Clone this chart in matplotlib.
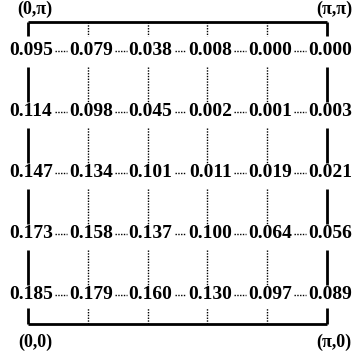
import matplotlib
matplotlib.use("Agg")
import matplotlib.pyplot as plt

# Grid values, rows from top (y = pi) to bottom (y = 0), columns from x = 0 to x = pi
row0 = [0.095, 0.079, 0.038, 0.008, 0.000, 0.000]
row1 = [0.114, 0.098, 0.045, 0.002, 0.001, 0.003]
row2 = [0.147, 0.134, 0.101, 0.011, 0.019, 0.021]
row3 = [0.173, 0.158, 0.137, 0.100, 0.064, 0.056]
row4 = [0.185, 0.179, 0.160, 0.130, 0.097, 0.089]
rows = [row0, row1, row2, row3, row4]
corner_labels = ["(0,\u03c0)", "(\u03c0,\u03c0)", "(0,0)", "(\u03c0,0)"]

ncol = len(row0)
nrow = len(rows)

W, H = 353, 356
fig = plt.figure(figsize=(W / 100, H / 100), dpi=100)
ax = fig.add_axes([0, 0, 1, 1])
colpx, rowpx = 59.8, 61.0
x0px, y0px = 28.0, 50.5
ax.set_xlim(-x0px / colpx, (W - x0px) / colpx)
ax.set_ylim((H - y0px) / rowpx, -y0px / rowpx)
ax.axis("off")

font = dict(family=["Liberation Serif", "DejaVu Serif"], fontsize=14, fontweight="bold")
tx = 3.0 / colpx  # text sits slightly right of the grid lines

for j, r in enumerate(rows):
    for i, v in enumerate(r):
        ax.text(i + tx, j, f"{v:.3f}", ha="center", va="center", **font)

dot = dict(color="black", linestyle=(0, (1, 1.0)), linewidth=1.0)
solid = dict(color="black", linestyle="-", linewidth=2.0, solid_capstyle="butt")

# horizontal dotted connectors
hgap = 24.0 / colpx
for j in range(nrow):
    for i in range(ncol - 1):
        ax.plot([i + tx + hgap, i + 1 + tx - hgap], [j, j], **dot)

# vertical connectors
vt, vb = 0.27, 0.15
for i in range(ncol):
    st = solid if i in (0, ncol - 1) else dot
    for j in range(nrow - 1):
        ax.plot([i, i], [j + vt, j + 1 - vb], **st)

# top and bottom frame
ytop, ybot = -0.47, nrow - 1 + 0.48
ax.plot([0, ncol - 1], [ytop, ytop], **solid)
ax.plot([0, ncol - 1], [ybot, ybot], **solid)
for i in range(ncol):
    st = solid if i in (0, ncol - 1) else dot
    ax.plot([i, i], [ytop, -0.24], **st)
    ax.plot([i, i], [ybot, nrow - 1 + 0.22], **st)

lab = dict(family=["Liberation Serif", "DejaVu Serif"], fontsize=13, fontweight="bold")
ax.text(0.12, ytop - 0.2, corner_labels[0], ha="center", va="center", **lab)
ax.text(ncol - 1 + 0.12, ytop - 0.2, corner_labels[1], ha="center", va="center", **lab)
ax.text(0.12, ybot + 0.3, corner_labels[2], ha="center", va="center", **lab)
ax.text(ncol - 1 + 0.12, ybot + 0.3, corner_labels[3], ha="center", va="center", **lab)

fig.savefig("out.png", dpi=100)
